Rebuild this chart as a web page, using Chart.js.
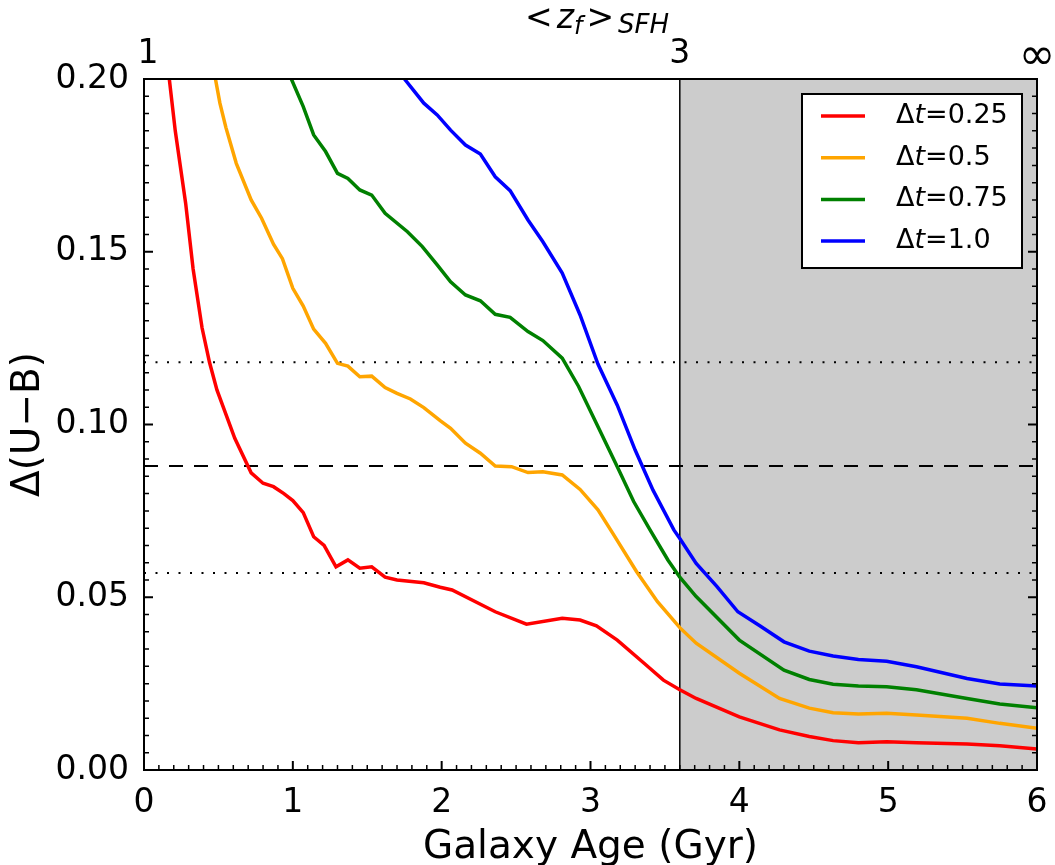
<!DOCTYPE html>
<html>
<head>
<meta charset="utf-8">
<script src="https://cdn.jsdelivr.net/npm/chart.js@4.4.0/dist/chart.umd.min.js"></script>
<style>
  html, body { margin: 0; padding: 0; background: #fff; }
</style>
</head>
<body>
<canvas id="chart" width="1055" height="865"></canvas>
<script>
// age (Gyr) and Delta(U-B), one pair of arrays per curve
const ageRed = [0.17, 0.21, 0.28, 0.33, 0.39, 0.44, 0.49, 0.61, 0.72, 0.80, 0.87, 0.94, 1.00, 1.07, 1.14, 1.21, 1.29, 1.37, 1.45, 1.53, 1.62, 1.70, 1.88, 1.99, 2.07, 2.36, 2.57, 2.81, 2.93, 3.04, 3.18, 3.36, 3.49, 3.60, 3.71, 4.00, 4.27, 4.47, 4.63, 4.80, 4.99, 5.19, 5.53, 5.75, 6.00];
const duRed = [0.200, 0.185, 0.164, 0.145, 0.128, 0.118, 0.110, 0.096, 0.086, 0.083, 0.082, 0.080, 0.078, 0.0745, 0.0675, 0.065, 0.0588, 0.0608, 0.0584, 0.0588, 0.0558, 0.055, 0.0542, 0.0529, 0.0521, 0.0458, 0.0422, 0.0439, 0.0434, 0.0417, 0.0376, 0.0309, 0.026, 0.0232, 0.0207, 0.0154, 0.0116, 0.0097, 0.0085, 0.0079, 0.0082, 0.0079, 0.0075, 0.0070, 0.0061];

const ageOrange = [0.48, 0.51, 0.55, 0.62, 0.72, 0.79, 0.87, 0.93, 1.00, 1.07, 1.14, 1.22, 1.30, 1.37, 1.45, 1.53, 1.62, 1.70, 1.79, 1.88, 1.99, 2.06, 2.16, 2.26, 2.36, 2.47, 2.58, 2.68, 2.81, 2.93, 3.05, 3.15, 3.31, 3.45, 3.60, 3.71, 4.00, 4.27, 4.47, 4.63, 4.80, 4.99, 5.19, 5.53, 5.75, 6.00];
const duOrange = [0.200, 0.193, 0.186, 0.1756, 0.165, 0.1597, 0.1522, 0.148, 0.1394, 0.1343, 0.1276, 0.1235, 0.1177, 0.1169, 0.1138, 0.114, 0.1107, 0.109, 0.1074, 0.1049, 0.1011, 0.0989, 0.0946, 0.0917, 0.088, 0.0878, 0.0861, 0.0863, 0.0854, 0.0812, 0.0753, 0.0685, 0.0574, 0.0487, 0.0412, 0.0367, 0.028, 0.0207, 0.0179, 0.0166, 0.0162, 0.0164, 0.0159, 0.015, 0.0135, 0.0121];

const ageGreen = [0.99, 1.07, 1.14, 1.22, 1.30, 1.37, 1.45, 1.53, 1.62, 1.77, 1.87, 1.97, 2.06, 2.16, 2.26, 2.36, 2.46, 2.58, 2.68, 2.81, 2.92, 3.04, 3.18, 3.29, 3.40, 3.52, 3.60, 3.71, 4.00, 4.30, 4.47, 4.63, 4.80, 4.99, 5.19, 5.53, 5.75, 6.00];
const duGreen = [0.200, 0.192, 0.1838, 0.179, 0.1727, 0.1712, 0.1679, 0.1664, 0.1611, 0.1558, 0.1515, 0.1462, 0.1413, 0.1375, 0.1358, 0.1319, 0.131, 0.1269, 0.1243, 0.1192, 0.111, 0.1003, 0.0878, 0.0777, 0.0695, 0.0608, 0.0558, 0.0502, 0.0376, 0.0289, 0.0262, 0.0248, 0.0243, 0.0241, 0.0232, 0.0207, 0.0191, 0.018];

const ageBlue = [1.75, 1.88, 1.97, 2.06, 2.16, 2.26, 2.36, 2.46, 2.58, 2.68, 2.81, 2.93, 3.05, 3.18, 3.30, 3.42, 3.56, 3.60, 3.71, 3.85, 3.99, 4.14, 4.30, 4.47, 4.63, 4.80, 4.99, 5.19, 5.53, 5.75, 6.00];
const duBlue = [0.200, 0.193, 0.1896, 0.1852, 0.1809, 0.1783, 0.1717, 0.1677, 0.1592, 0.1529, 0.1438, 0.1317, 0.1175, 0.1056, 0.0926, 0.081, 0.0695, 0.067, 0.0598, 0.0531, 0.0458, 0.0417, 0.0371, 0.0344, 0.033, 0.032, 0.0315, 0.0299, 0.0265, 0.0249, 0.0243];

const dtValues = ['0.25', '0.5', '0.75', '1.0'];
const curveColors = ['#ff0000', '#ffa500', '#008000', '#0000ff'];

// reference levels and the shaded region
const dottedLevels = [0.118, 0.057];
const dashedLevel = 0.088;
const ageCut = 3.6;
const xRange = [0, 6];
const yRange = [0, 0.2];

// top axis: <z_f> at given ages
const topTickAges = [0, 3.6, 6];
const topTickLabels = ['1', '3', '\u221E'];

const FONT = 'DejaVu Sans';

function pairs(xs, ys) {
    return xs.map((x, i) => ({ x: x, y: ys[i] }));
}

const curves = [
    pairs(ageRed, duRed),
    pairs(ageOrange, duOrange),
    pairs(ageGreen, duGreen),
    pairs(ageBlue, duBlue)
];

const datasets = curves.map((pts, i) => ({
    label: '\u0394t=' + dtValues[i],
    dtText: dtValues[i],
    isCurve: true,
    data: pts,
    borderColor: curveColors[i],
    borderWidth: 3.5,
    pointRadius: 0,
    tension: 0,
    order: 0
}));

dottedLevels.forEach(lv => {
    datasets.push({
        label: 'dotted',
        data: [{ x: xRange[0], y: lv }, { x: xRange[1], y: lv }],
        borderColor: '#000',
        borderWidth: 2,
        borderDash: [2, 9.5],
        pointRadius: 0,
        order: 1
    });
});
datasets.push({
    label: 'dashed',
    data: [{ x: xRange[0], y: dashedLevel }, { x: xRange[1], y: dashedLevel }],
    borderColor: '#000',
    borderWidth: 2,
    borderDash: [14, 11],
    pointRadius: 0,
    order: 1
});
datasets.push({
    label: 'cut',
    data: [{ x: ageCut, y: yRange[0] }, { x: ageCut, y: yRange[1] }],
    borderColor: '#000',
    borderWidth: 1.5,
    pointRadius: 0,
    order: 1
});

// grey band behind everything
const shadePlugin = {
    id: 'shade',
    beforeDatasetsDraw(chart) {
        const { ctx, chartArea, scales } = chart;
        const x0 = scales.x.getPixelForValue(ageCut);
        const x1 = scales.x.getPixelForValue(xRange[1]);
        ctx.save();
        ctx.fillStyle = '#cccccc';
        ctx.fillRect(x0, chartArea.top, x1 - x0, chartArea.bottom - chartArea.top);
        ctx.restore();
    }
};

// frame, inward ticks, top axis, legend
const decorPlugin = {
    id: 'decor',
    afterDatasetsDraw(chart) {
        const { ctx, chartArea: a, scales } = chart;
        const xs = scales.x, ys = scales.y;
        ctx.save();
        ctx.strokeStyle = '#000';

        // minor + major ticks pointing inwards
        for (let i = 0; i <= 60; i++) {
            const px = xs.getPixelForValue(i / 10);
            const len = i % 10 === 0 ? 9 : 5;
            ctx.lineWidth = i % 10 === 0 ? 2 : 1.5;
            ctx.beginPath();
            ctx.moveTo(px, a.bottom);
            ctx.lineTo(px, a.bottom - len);
            ctx.stroke();
        }
        for (let i = 0; i <= 40; i++) {
            const py = ys.getPixelForValue(i * 0.005);
            const len = i % 10 === 0 ? 9 : 5;
            ctx.lineWidth = i % 10 === 0 ? 2 : 1.5;
            ctx.beginPath();
            ctx.moveTo(a.left, py);
            ctx.lineTo(a.left + len, py);
            ctx.moveTo(a.right, py);
            ctx.lineTo(a.right - len, py);
            ctx.stroke();
        }

        ctx.lineWidth = 2;
        ctx.strokeRect(a.left, a.top, a.right - a.left, a.bottom - a.top);

        // top axis labels
        ctx.fillStyle = '#000';
        ctx.textAlign = 'center';
        ctx.textBaseline = 'alphabetic';
        topTickAges.forEach((v, i) => {
            const inf = topTickLabels[i] === '\u221E';
            ctx.font = (inf ? '44px ' : '33px ') + FONT;
            ctx.fillText(topTickLabels[i], xs.getPixelForValue(v) + (i === 0 ? 4 : 0), a.top - (inf ? 10 : 16));
        });

        // top axis title  <z_f>_SFH
        let x = 525;
        const base = 28;
        ctx.textAlign = 'left';
        const piece = (txt, font, dy) => {
            ctx.font = font;
            ctx.fillText(txt, x, base + dy);
            x += ctx.measureText(txt).width;
        };
        piece('<', '33px ' + FONT, 0);
        x += 4;
        piece('z', 'italic 33px ' + FONT, 0);
        piece('f', 'italic 24px ' + FONT, 6);
        x += 4;
        piece('>', '33px ' + FONT, 0);
        x += 4;
        piece('SFH', 'italic 26px ' + FONT, 5);

        // legend box
        const lx = 802, ly = 94, lw = 220, lh = 174;
        ctx.fillStyle = '#fff';
        ctx.fillRect(lx, ly, lw, lh);
        ctx.lineWidth = 2;
        ctx.strokeRect(lx, ly, lw, lh);
        const rows = chart.data.datasets.filter(d => d.isCurve);
        rows.forEach((d, i) => {
            const y = ly + 22 + i * 41.7;
            ctx.strokeStyle = d.borderColor;
            ctx.lineWidth = 3.5;
            ctx.beginPath();
            ctx.moveTo(lx + 19, y);
            ctx.lineTo(lx + 63, y);
            ctx.stroke();
            ctx.fillStyle = '#000';
            ctx.textBaseline = 'middle';
            let tx = lx + 94;
            ctx.font = '27px ' + FONT;
            ctx.fillText('\u0394', tx, y);
            tx += ctx.measureText('\u0394').width;
            ctx.font = 'italic 27px ' + FONT;
            ctx.fillText('t', tx, y);
            tx += ctx.measureText('t').width;
            ctx.font = '27px ' + FONT;
            ctx.fillText('=' + d.dtText, tx, y);
        });
        ctx.restore();
    }
};

new Chart(document.getElementById('chart'), {
    type: 'line',
    data: { datasets: datasets },
    options: {
        responsive: false,
        animation: false,
        devicePixelRatio: 1,
        layout: { padding: { top: 79, right: 18, left: 0, bottom: 0 } },
        plugins: {
            legend: { display: false },
            tooltip: { enabled: false }
        },
        scales: {
            x: {
                type: 'linear',
                min: xRange[0],
                max: xRange[1],
                grid: { display: false },
                border: { display: false },
                ticks: { stepSize: 1, color: '#000', font: { family: FONT, size: 33 }, padding: 6, maxRotation: 0 },
                title: { display: true, text: 'Galaxy Age (Gyr)', color: '#000', font: { family: FONT, size: 39 }, padding: { top: 0, bottom: -6 } },
                afterFit(s) { s.height = 95; }
            },
            y: {
                min: yRange[0],
                max: yRange[1],
                grid: { display: false },
                border: { display: false },
                ticks: { stepSize: 0.05, color: '#000', font: { family: FONT, size: 33 }, padding: 7, callback: v => v.toFixed(2) },
                title: { display: true, text: '\u0394(U\u2212B)', color: '#000', font: { family: FONT, size: 39 }, padding: { top: 5, bottom: 0 } },
                afterFit(s) { s.width = 144; }
            }
        }
    },
    plugins: [shadePlugin, decorPlugin]
});
</script>
</body>
</html>
